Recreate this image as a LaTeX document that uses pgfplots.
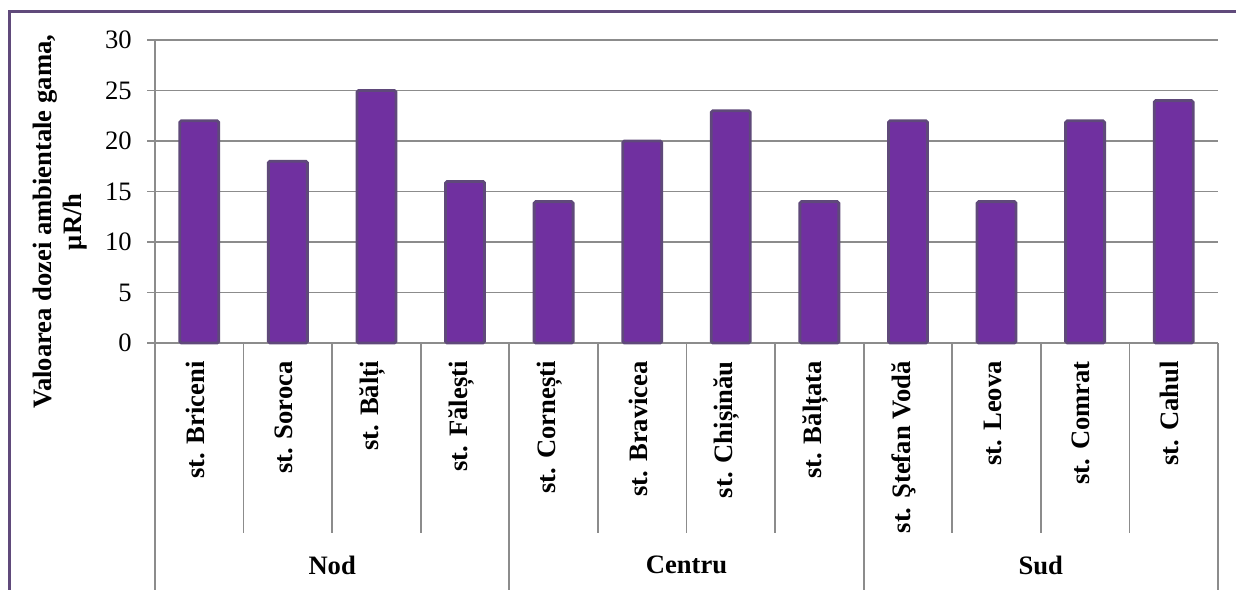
\documentclass[border=0pt]{standalone}
\usepackage{fontspec}
\setmainfont{Liberation Serif}
\usepackage{pgfplots}
\pgfplotsset{compat=1.18}
\definecolor{barfill}{HTML}{7030A0}
\definecolor{baredge}{HTML}{5F497A}
\definecolor{framec}{HTML}{604A7B}
\definecolor{gridc}{HTML}{8C8C8C}
\begin{document}
\fontsize{13.3}{15}\selectfont
\begin{tikzpicture}
% canvas: 1 px of the reference = 0.5pt
\path[use as bounding box] (0,0) rectangle (618pt,-294.5pt);
\draw[framec, line width=1.6pt] (4.6pt,-300pt) -- (4.6pt,-5.6pt) -- (630pt,-5.6pt);
\begin{axis}[
    at={(77.5pt,-171.5pt)}, anchor=south west,
    scale only axis, width=531.5pt, height=151.5pt,
    xmin=-0.5, xmax=11.5, ymin=0, ymax=30,
    axis lines=left, axis line style={-, draw=gridc, line width=0.9pt},
    ytick={0,5,...,30},
    ymajorgrids, grid style={draw=gridc, line width=0.9pt},
    y tick style={draw=gridc, line width=0.9pt},
    tick align=outside, major tick length=4pt,
    y tick label style={xshift=-3pt},
    xtick={0,...,11},
    x tick style={draw=none},
    xticklabels={st. Briceni, st. Soroca, st. Bălți, st. Fălești, st. Cornești, st. Bravicea, st. Chișinău, st. Bălțata, st. Ştefan Vodă, st. Leova, st. Comrat, st. Cahul},
    x tick label style={rotate=90, anchor=east, font=\bfseries, xshift=-0.5pt, yshift=2pt},
    /pgf/number format/assume math mode=true,
    ylabel={Valoarea dozei ambientale gama,\\μR/h},
    ylabel style={align=center, font=\bfseries, at={(axis description cs:-0.0894,0.40)}, anchor=center},
    clip=false,
]
\addplot[ybar, bar width=0.44, fill=barfill, draw=baredge, line width=1.4pt, rounded corners=0.8pt]
    coordinates {(0,22) (1,18) (2,25) (3,16) (4,14) (5,20) (6,23) (7,14) (8,22) (9,14) (10,22) (11,24)};
\pgfplotsinvokeforeach{0.5,1.5,2.5,4.5,5.5,6.5,8.5,9.5,10.5}{
    \draw[gridc, line width=0.9pt] (axis cs:#1,0) -- ++(0pt,-95pt);
}
\pgfplotsinvokeforeach{-0.5,3.5,7.5,11.5}{
    \draw[gridc, line width=0.9pt] (axis cs:#1,0) -- ++(0pt,-130pt);
}
\node[font=\bfseries] at (axis cs:1.5,0) [yshift=-111pt] {Nod};
\node[font=\bfseries] at (axis cs:5.5,0) [yshift=-111pt] {Centru};
\node[font=\bfseries] at (axis cs:9.5,0) [yshift=-111pt] {Sud};
\end{axis}
\end{tikzpicture}
\end{document}
